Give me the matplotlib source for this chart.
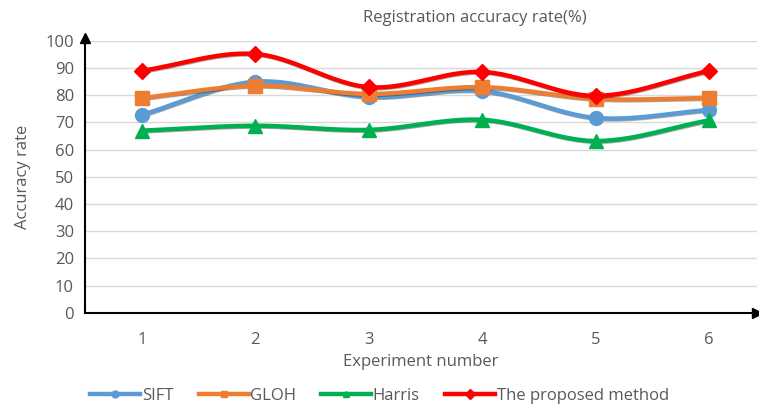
import numpy as np
import matplotlib.pyplot as plt
import matplotlib.patheffects as pe

plt.rcParams['font.family'] = ['Open Sans', 'DejaVu Sans']

experiments = [1, 2, 3, 4, 5, 6]
sift = [72.8, 85.0, 79.4, 81.6, 71.7, 74.6]
gloh = [79.0, 83.5, 80.5, 83.0, 78.7, 79.0]
harris = [67.0, 68.8, 67.3, 71.0, 63.2, 70.8]
proposed = [89.0, 95.2, 83.0, 88.6, 79.8, 89.0]

series = [
    ("SIFT", sift, "#5B9BD5", "o", 10),
    ("GLOH", gloh, "#ED7D31", "s", 10),
    ("Harris", harris, "#00B050", "^", 10),
    ("The proposed method", proposed, "#FF0000", "D", 8),
]

grey = "#595959"


def smooth(x, y, n=30):
    # Catmull-Rom curve through the points (smoothed line style)
    x = np.asarray(x, float)
    y = np.asarray(y, float)
    px = np.concatenate([[2 * x[0] - x[1]], x, [2 * x[-1] - x[-2]]])
    py = np.concatenate([[2 * y[0] - y[1]], y, [2 * y[-1] - y[-2]]])
    xs, ys = [], []
    t = np.linspace(0, 1, n)
    for i in range(1, len(px) - 2):
        for p, out in ((px, xs), (py, ys)):
            p0, p1, p2, p3 = p[i - 1], p[i], p[i + 1], p[i + 2]
            out.append(0.5 * (2 * p1 + (-p0 + p2) * t
                              + (2 * p0 - 5 * p1 + 4 * p2 - p3) * t ** 2
                              + (-p0 + 3 * p1 - 3 * p2 + p3) * t ** 3))
    return np.concatenate(xs), np.concatenate(ys)


fig = plt.figure(figsize=(7.59, 4.09), dpi=100)
ax = fig.add_axes([0.112, 0.235, 0.885, 0.665])

shadow = [pe.SimpleLineShadow(offset=(0.6, -0.6), shadow_color="k", alpha=0.35), pe.Normal()]
for name, vals, color, marker, ms in series:
    sx, sy = smooth(experiments, vals)
    ax.plot(sx, sy, color=color, lw=3.2, solid_capstyle="round", path_effects=shadow)
    ax.plot(experiments, vals, linestyle="none", marker=marker, ms=ms, color=color)
    ax.plot([], [], color=color, lw=3.2, marker=marker, ms=5, label=name)

ax.set_xlim(0.5, 6.42)
ax.set_ylim(0, 100)
ax.set_yticks(range(0, 101, 10))
ax.set_xticks(experiments)
ax.grid(axis="y", color="#d9d9d9", lw=1)
ax.set_axisbelow(True)
for s in ["top", "right"]:
    ax.spines[s].set_visible(False)
for s in ["left", "bottom"]:
    ax.spines[s].set_color("black")
    ax.spines[s].set_linewidth(1.5)
ax.tick_params(length=0, colors=grey, labelsize=12, pad=8)
ax.tick_params(axis="x", pad=14)

# axis arrows
ax.plot(1, 0, ">k", ms=7, transform=ax.transAxes, clip_on=False)
ax.plot(0, 1.01, "^k", ms=7, transform=ax.transAxes, clip_on=False)

ax.set_xlabel("Experiment number", color=grey, fontsize=12, labelpad=4)
ax.set_ylabel("Accuracy rate", color=grey, fontsize=12, labelpad=10)
fig.text(0.625, 0.955, "Registration accuracy rate(%)", color=grey,
         fontsize=12, ha="center", va="center")

leg = fig.legend(loc="center", bbox_to_anchor=(0.5, 0.032), ncol=4,
                 frameon=False, fontsize=12, handlelength=3.0,
                 handletextpad=0.1, columnspacing=1.5)
for t in leg.get_texts():
    t.set_color(grey)

fig.savefig("out.png", dpi=100)
